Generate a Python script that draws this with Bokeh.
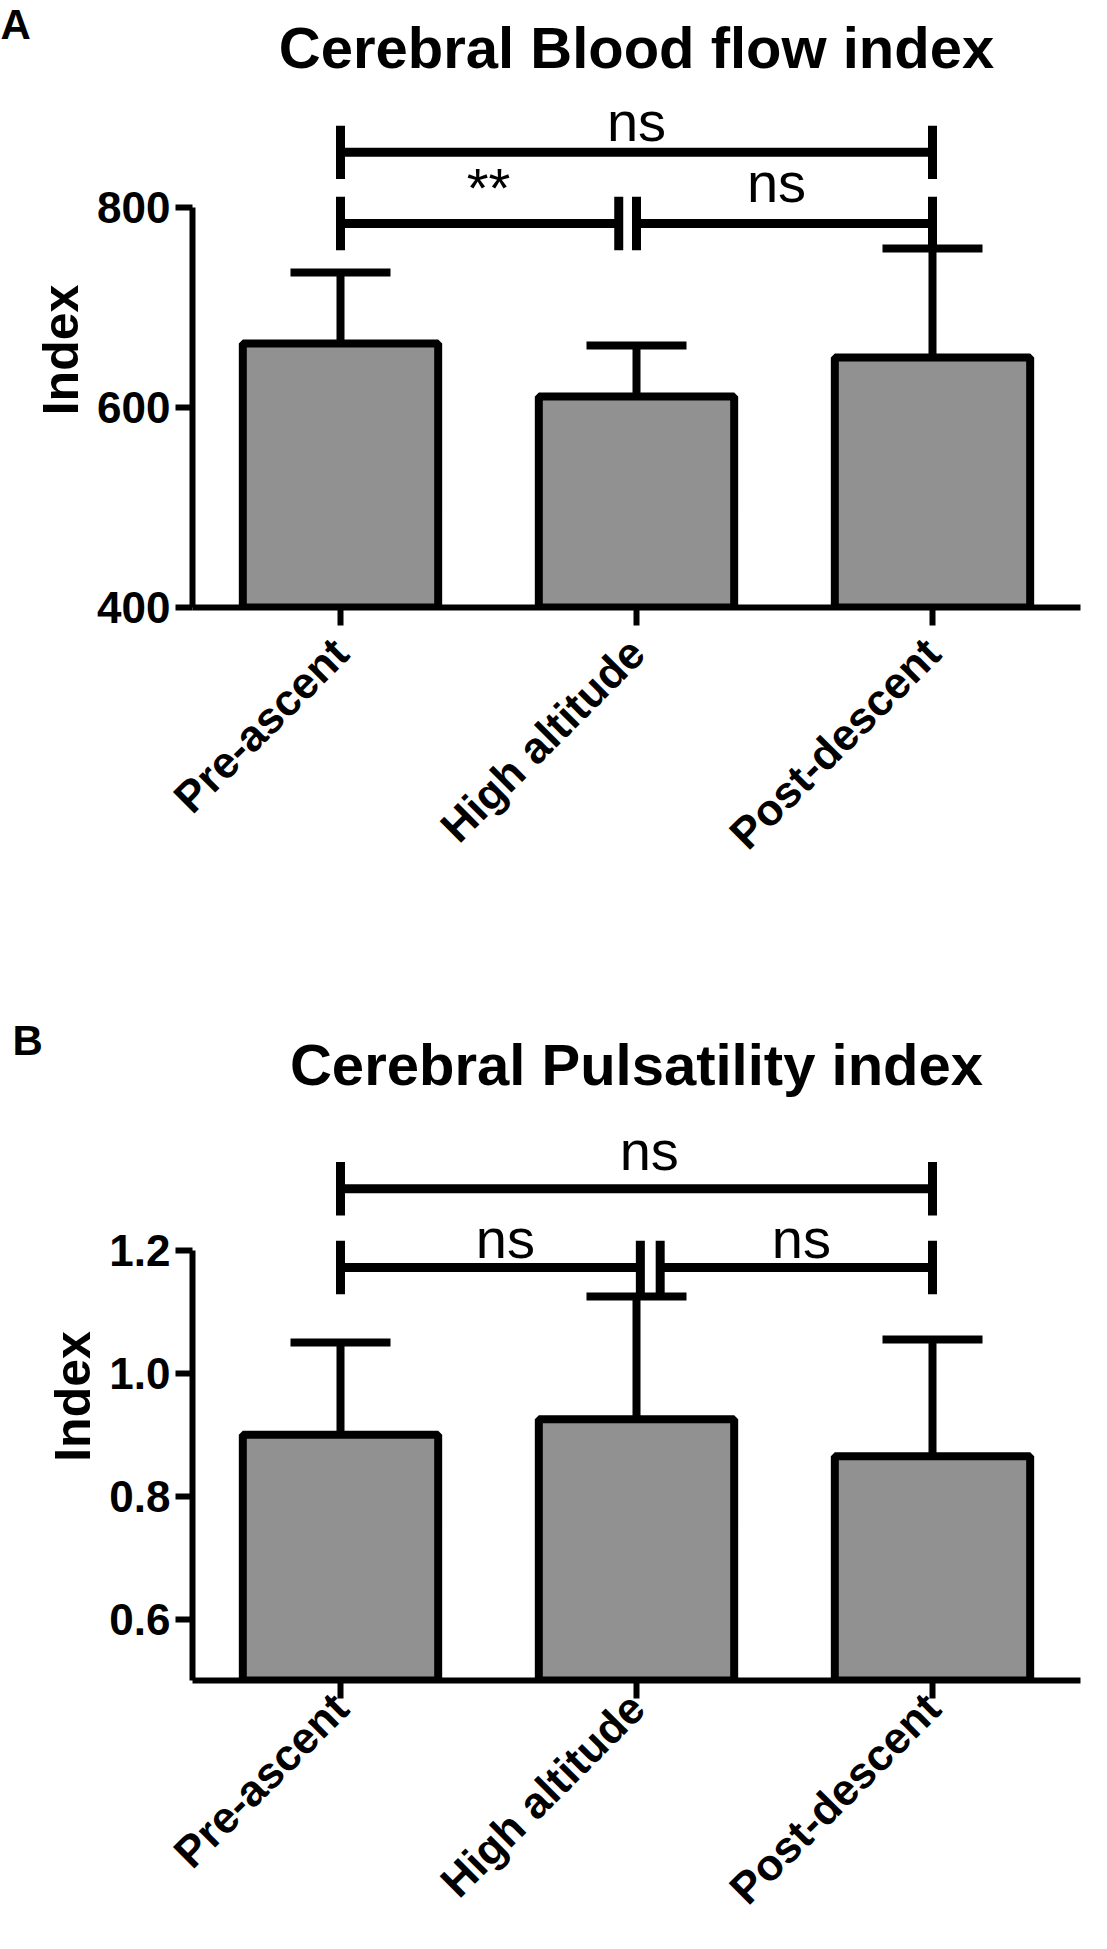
import math
from bokeh.plotting import figure
from bokeh.models import (ColumnDataSource, FactorRange, Range1d, Whisker, TeeHead,
                          Label, FixedTicker, NumeralTickFormatter, BasicTickFormatter,
                          CanvasTexture)
from bokeh.layouts import column
from bokeh.core.properties import value
from bokeh.embed import file_html
from bokeh.resources import INLINE

# ---------------- data ----------------
categories = ["Pre-ascent", "High altitude", "Post-descent"]
cbf_mean = [664, 611, 650]
cbf_sd = [71, 51, 109]
cpi_mean = [0.900, 0.925, 0.865]
cpi_sd = [0.150, 0.200, 0.190]
cbf_ticks = [400, 600, 800]
cpi_ticks = [0.6, 0.8, 1.0, 1.2]
# pairwise comparisons: (group i, group j, result)
cbf_tests = [(0, 2, "ns"), (0, 1, "**"), (1, 2, "ns")]
cpi_tests = [(0, 2, "ns"), (0, 1, "ns"), (1, 2, "ns")]

FONT = "Liberation Sans"
W = 1096
PX_PER_CAT = 300


def make_panel(letter, title, means, sds, ticks, y0, fmt, tests, cfg):
    H = cfg["height"]
    top = cfg["frame_top"]
    axis_y = cfg["axis_y"]
    left = cfg["frame_left"]
    ppu = cfg["ppu"]
    y1 = y0 + (axis_y - top) / ppu
    n = len(categories)
    p = figure(width=W, height=H,
               x_range=FactorRange(*categories), y_range=Range1d(y0, y1),
               output_backend="svg", toolbar_location=None,
               min_border_left=left, min_border_right=W - left - n * PX_PER_CAT,
               min_border_top=top, min_border_bottom=H - axis_y)
    p.background_fill_color = "white"
    p.border_fill_color = "white"
    p.outline_line_color = None
    p.xgrid.grid_line_color = None
    p.ygrid.grid_line_color = None

    p.title.text = title
    p.title.text_font = FONT
    p.title.text_font_size = "58px"
    p.title.text_font_style = "bold"
    p.title.text_color = "black"
    p.title.align = "center"
    p.title.standoff = cfg["title_standoff"]

    src = ColumnDataSource(dict(cat=categories, mean=means,
                                upper=[m + s for m, s in zip(means, sds)]))
    checker = CanvasTexture(code=(
        "const h = scale / 2; ctx.fillStyle = 'black';"
        "ctx.fillRect(0, 0, h, h); ctx.fillRect(h, h, h, h);"))

    p.add_layout(Whisker(source=src, base="cat", upper="upper", lower="mean",
                         dimension="height", line_color="black", line_width=8,
                         upper_head=TeeHead(size=100, line_color="black", line_width=8),
                         lower_head=None, level="underlay"))

    p.vbar(x="cat", top="mean", bottom=y0, width=0.66, source=src,
           fill_color="white", line_color="black", line_width=8,
           hatch_pattern=value("checker"), hatch_extra={"checker": checker},
           hatch_color="black", hatch_scale=6)

    # significance brackets
    tick = cfg["bracket_tick_px"] / ppu
    x0s, y0s, x1s, y1s = [], [], [], []
    tx, ty, tt = [], [], []
    for k, (i, j, lab) in enumerate(tests):
        level = cfg["bracket_levels"][k]
        xa, xb = i + 0.5, j + 0.5
        if (i, j) == (0, 1):
            xb += cfg["gap"][0]
        if (i, j) == (1, 2):
            xa += cfg["gap"][1]
        x0s += [xa, xa, xb]
        y0s += [level, level - tick, level - tick]
        x1s += [xb, xa, xb]
        y1s += [level, level + tick, level + tick]
        tx.append((i + j) / 2 + 0.5 + cfg["text_dx"][k])
        ty.append(cfg["text_levels"][k])
        tt.append(lab)
    p.segment(x0=x0s, y0=y0s, x1=x1s, y1=y1s, line_color="black", line_width=9)
    p.text(x=tx, y=ty, text=tt, text_font=value(FONT), text_font_size="56px",
           text_align="center", text_baseline="alphabetic", text_color="black")

    # axes
    xa = p.xaxis[0]
    xa.axis_line_width = 6
    xa.axis_line_color = "black"
    xa.major_tick_line_width = 6
    xa.major_tick_line_color = "black"
    xa.major_tick_out = 18
    xa.major_tick_in = 0
    xa.major_label_orientation = math.pi / 4
    xa.major_label_text_font = FONT
    xa.major_label_text_font_size = "44px"
    xa.major_label_text_font_style = "bold"
    xa.major_label_text_color = "black"
    xa.major_label_standoff = cfg["xlabel_standoff"]

    ya = p.yaxis[0]
    ya.ticker = FixedTicker(ticks=ticks, minor_ticks=[])
    ya.bounds = (y0, ticks[-1])
    ya.formatter = fmt
    ya.axis_line_width = 6
    ya.axis_line_color = "black"
    ya.major_tick_line_width = 6
    ya.major_tick_line_color = "black"
    ya.major_tick_out = 17
    ya.major_tick_in = 0
    ya.minor_tick_line_color = None
    ya.major_label_text_font = FONT
    ya.major_label_text_font_size = "44px"
    ya.major_label_text_font_style = "bold"
    ya.major_label_text_color = "black"
    ya.major_label_standoff = 5
    ya.axis_label = "Index"
    ya.axis_label_text_font = FONT
    ya.axis_label_text_font_size = "50px"
    ya.axis_label_text_font_style = "bold"
    ya.axis_label_text_color = "black"
    ya.axis_label_standoff = 5

    # panel letter: lives in the left side panel (outside the frame, not clipped);
    # screen units are relative to that panel (y measured up from the frame bottom)
    p.add_layout(Label(x=0, y=cfg["letter_sy"], x_units="screen", y_units="screen",
                       text=letter, text_font=FONT, text_font_size="42px",
                       text_font_style="bold", text_color="black",
                       text_align="left", text_baseline="top"), "left")
    return p


cfg_a = dict(height=988, frame_top=87, axis_y=607, frame_left=192, ppu=1.01,
             title_standoff=25, letter_sy=607, xlabel_standoff=20,
             bracket_levels=[855, 784, 784], text_levels=[886, 820, 825],
             gap=(-0.06, 0.0), text_dx=[0.0, 0.0, -0.027], bracket_tick_px=27)
cfg_b = dict(height=945, frame_top=124, axis_y=697, frame_left=180, ppu=620,
             title_standoff=31, letter_sy=664, xlabel_standoff=2,
             bracket_levels=[1.300, 1.172, 1.172], text_levels=[1.362, 1.219, 1.219],
             gap=(0.013, 0.08), text_dx=[0.043, 0.057, 0.057], bracket_tick_px=27)

pa = make_panel("A", "Cerebral Blood flow index", cbf_mean, cbf_sd, cbf_ticks, 400,
                BasicTickFormatter(), cbf_tests, cfg_a)
pb = make_panel("B", "Cerebral Pulsatility index", cpi_mean, cpi_sd, cpi_ticks, 0.5,
                NumeralTickFormatter(format="0.0"), cpi_tests, cfg_b)

layout = column(pa, pb)
open("out.html", "w").write(file_html(layout, INLINE))
